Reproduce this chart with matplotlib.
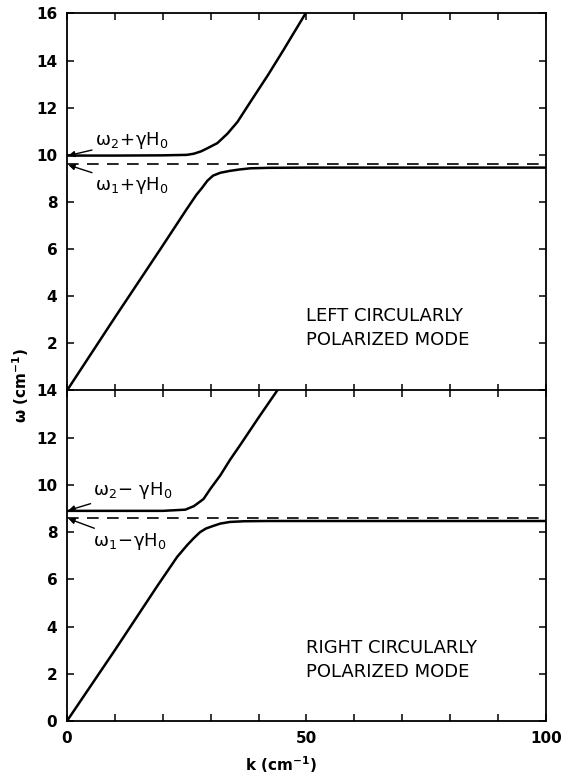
import matplotlib
matplotlib.use("Agg")
import matplotlib.pyplot as plt

# Left circularly polarized mode (upper panel)
lcp_up_k = [0, 10, 20, 25, 26.5, 28, 29.5, 31.4, 33.5, 35.6, 38.3, 42, 45.2, 49.8]
lcp_up_w = [9.97, 9.97, 9.98, 10.0, 10.05, 10.15, 10.3, 10.5, 10.9, 11.4, 12.25, 13.4, 14.45, 16.0]
lcp_lo_k = [0, 10, 19.5, 25, 27, 28.2, 29.3, 30.5, 32, 34, 36, 38.3, 42, 50, 100]
lcp_lo_w = [0, 3.1, 6.0, 7.7, 8.3, 8.6, 8.9, 9.12, 9.24, 9.32, 9.38, 9.43, 9.45, 9.46, 9.46]
lcp_asym = 9.6

# Right circularly polarized mode (lower panel)
rcp_up_k = [0, 10, 20, 24.7, 26.5, 28.5, 30, 32, 34, 36.2, 40, 43.9]
rcp_up_w = [8.9, 8.9, 8.9, 8.95, 9.1, 9.4, 9.85, 10.4, 11.05, 11.7, 12.85, 14.0]
rcp_lo_k = [0, 10, 18.8, 23, 25.1, 26.5, 27.8, 29, 30.5, 32, 34, 37, 42, 100]
rcp_lo_w = [0, 3.0, 5.7, 6.95, 7.45, 7.75, 8.0, 8.15, 8.26, 8.36, 8.43, 8.46, 8.47, 8.47]
rcp_asym = 8.6

x_ticks = list(range(0, 101, 10))
x_labels = ["0", "", "", "", "", "50", "", "", "", "", "100"]

plt.rcParams["mathtext.fontset"] = "dejavusans"
plt.rcParams["font.family"] = "DejaVu Sans"

fig = plt.figure(figsize=(5.61, 7.75), dpi=100)
ax1 = fig.add_axes([0.1194, 0.4961, 0.8538, 0.4865])
ax2 = fig.add_axes([0.1194, 0.0697, 0.8538, 0.4265])

curve = dict(color="black", lw=1.8, solid_capstyle="round", solid_joinstyle="round")
dash = dict(color="black", lw=1.2, dashes=(7, 5))
arrow = dict(arrowstyle="-|>", color="black", lw=1.0, mutation_scale=9, shrinkA=0, shrinkB=0)

ax1.plot(lcp_up_k, lcp_up_w, **curve)
ax1.plot(lcp_lo_k, lcp_lo_w, **curve)
ax1.axhline(lcp_asym, **dash)
ax2.plot(rcp_up_k, rcp_up_w, **curve)
ax2.plot(rcp_lo_k, rcp_lo_w, **curve)
ax2.axhline(rcp_asym, **dash)

ax1.set_ylim(0, 16)
ax2.set_ylim(0, 14)
ax1.set_yticks(range(0, 17, 2))
ax1.set_yticklabels([""] + [str(v) for v in range(2, 17, 2)])
ax2.set_yticks(range(0, 15, 2))

for ax in (ax1, ax2):
    ax.set_xlim(0, 100)
    ax.set_xticks(x_ticks)
    ax.tick_params(direction="in", length=5, width=1.1, top=True, right=True,
                   labelsize=11, pad=7)
    for lab in ax.get_yticklabels():
        lab.set_fontweight("bold")
    for s in ax.spines.values():
        s.set_linewidth(1.3)

ax1.set_xticklabels([])
ax2.set_xticklabels(x_labels, fontweight="bold")

# mode labels
ax1.text(50, 2.66, "LEFT CIRCULARLY\nPOLARIZED MODE", fontsize=13,
         ha="left", va="center", linespacing=1.45)
ax2.text(50, 2.57, "RIGHT CIRCULARLY\nPOLARIZED MODE", fontsize=13,
         ha="left", va="center", linespacing=1.45)

# branch annotations
ax1.annotate(r"$\mathrm{\omega_2\!+\!\gamma H_0}$", xy=(0.3, 9.97), xytext=(5.8, 10.6),
             fontsize=13, va="center", ha="left", arrowprops=arrow)
ax1.annotate(r"$\mathrm{\omega_1\!+\!\gamma H_0}$", xy=(0.3, 9.57), xytext=(5.8, 8.7),
             fontsize=13, va="center", ha="left", arrowprops=arrow)
ax2.annotate(r"$\mathrm{\omega_2\!-\,\gamma H_0}$", xy=(0.3, 8.92), xytext=(5.5, 9.75),
             fontsize=13, va="center", ha="left", arrowprops=arrow)
ax2.annotate(r"$\mathrm{\omega_1\!-\!\gamma H_0}$", xy=(0.3, 8.57), xytext=(5.5, 7.6),
             fontsize=13, va="center", ha="left", arrowprops=arrow)

fig.text(0.036, 0.503, r"$\mathbf{\omega}$ (cm$^{\mathbf{-1}}$)", rotation=90,
         ha="center", va="center", fontsize=11, fontweight="bold")
fig.text(0.5, 0.013, r"k (cm$^{\mathbf{-1}}$)", ha="center", va="center",
         fontsize=11, fontweight="bold")

fig.savefig("out.png", dpi=100)
